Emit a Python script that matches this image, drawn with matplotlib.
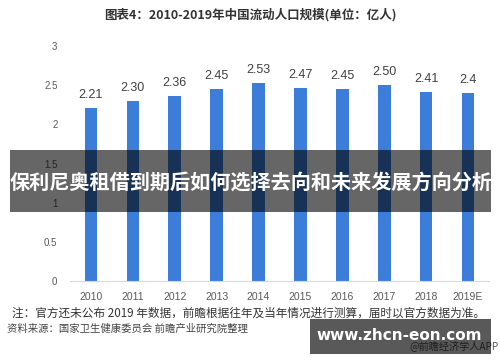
import matplotlib
matplotlib.use('Agg')
import matplotlib.pyplot as plt
from matplotlib.patches import Rectangle

plt.rcParams['font.family'] = ['Noto Sans CJK SC', 'DejaVu Sans']

years = ['2010', '2011', '2012', '2013', '2014', '2015', '2016', '2017', '2018', '2019E']
values = [2.21, 2.30, 2.36, 2.45, 2.53, 2.47, 2.45, 2.50, 2.41, 2.40]
value_labels = ['2.21', '2.30', '2.36', '2.45', '2.53', '2.47', '2.45', '2.50', '2.41', '2.4']
yticks = [0, 0.5, 1, 1.5, 2, 2.5, 3]
ytick_labels = ['0', '0.5', '1', '1.5', '2', '2.5', '3']

title = '图表4：2010-2019年中国流动人口规模(单位：亿人)'
banner = '保利尼奥租借到期后如何选择去向和未来发展方向分析'
note = '注：官方还未公布 2019 年数据，前瞻根据往年及当年情况进行测算，届时以官方数据为准。'
source = '资料来源：国家卫生健康委员会 前瞻产业研究院整理'
credit = '@前瞻经济学人APP'
site = 'www.zhcn-eon.com'

W, H = 500, 362
fig = plt.figure(figsize=(W / 100, H / 100), dpi=100)
fig.patch.set_facecolor('white')

# axes placed in pixel terms: x 70..489, y (from top) 46..281
ax = fig.add_axes([70 / W, 1 - 281 / H, (489 - 70) / W, (281 - 46) / H])
x = range(len(years))
ax.bar(x, values, width=0.3, color='#3b7dd8', zorder=2)
for i, (v, lab) in enumerate(zip(values, value_labels)):
    ax.annotate(lab, (i, v), xytext=(0, 5), textcoords='offset points',
                ha='center', va='bottom', fontsize=9, color='#404040',
                family='Liberation Sans', annotation_clip=False)

ax.set_xlim(-0.5, 9.5)
ax.set_ylim(0, 3)
ax.set_xticks(list(x))
ax.set_xticklabels(years, fontsize=7.5, color='#595959', family='Liberation Sans')
ax.set_yticks(yticks)
ax.set_yticklabels(ytick_labels, fontsize=7, color='#595959', family='Liberation Sans')
ax.tick_params(axis='both', length=0)
ax.tick_params(axis='y', pad=9)
ax.tick_params(axis='x', pad=8)
for side in ['top', 'right', 'left']:
    ax.spines[side].set_visible(False)
ax.spines['bottom'].set_color('#d9d9d9')
ax.spines['bottom'].set_linewidth(0.8)

# title and footnotes
fig.text(0.5, 1 - 15 / H, title, ha='center', va='center', fontsize=9,
         fontweight='bold', color='#333333')
fig.text(12 / W, 1 - 313 / H, note, ha='left', va='center', fontsize=8.4, color='#333333')
fig.text(7 / W, 1 - 329 / H, source, ha='left', va='center', fontsize=7.45, color='#444444')
fig.text(499 / W, 1 - 346 / H, credit, ha='right', va='center', fontsize=7.3, color='#555555')

# dark overlay banner across the chart
fig.patches.append(Rectangle((10 / W, 1 - 212 / H), (491 - 10) / W, (212 - 150) / H,
                             transform=fig.transFigure, facecolor='black',
                             alpha=0.6, edgecolor='none', zorder=5))
fig.text(251 / W, 1 - 182 / H, banner, ha='center', va='center', fontsize=14.5,
         fontweight='bold', color='white', zorder=6)

# site box bottom right
fig.patches.append(Rectangle((310 / W, 1 - 354 / H), (491 - 310) / W, (354 - 319) / H,
                             transform=fig.transFigure, facecolor='black',
                             alpha=0.65, edgecolor='none', zorder=5))
fig.text(399 / W, 1 - 335 / H, site, ha='center', va='center', fontsize=11,
         fontweight='bold', color='white', family='DejaVu Sans', zorder=6)

fig.savefig('out.png', dpi=100)
